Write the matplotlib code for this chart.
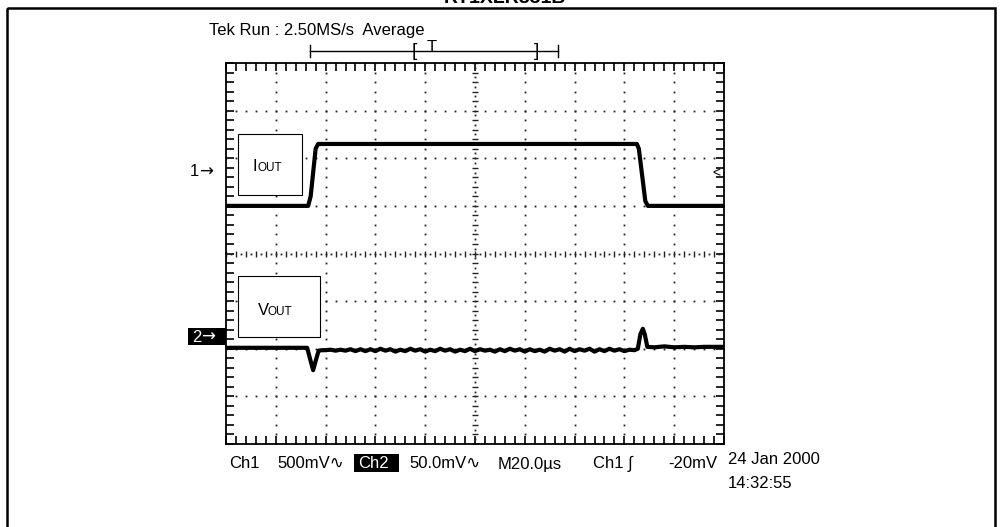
import matplotlib
matplotlib.use('Agg')
import matplotlib.pyplot as plt
from matplotlib.patches import Rectangle
import numpy as np

plt.rcParams['font.family'] = ['Liberation Sans', 'DejaVu Sans']

# screen is 10 x 8 divisions; waveforms are in divisions
ch1_t = [0.0, 1.65, 1.70, 1.80, 1.85, 8.25, 8.29, 8.42, 8.47, 10.0]
ch1_v = [5.0, 5.0, 5.2, 6.2, 6.3, 6.3, 6.2, 5.1, 5.0, 5.0]

ch2_pre_t = [0.0, 1.63, 1.69, 1.75, 1.81, 1.86, 1.93]
ch2_pre_v = [2.02, 2.02, 1.78, 1.55, 1.78, 1.96, 1.97]

ripple_t = np.round(np.arange(2.0, 8.21, 0.1), 2)
ripple_v = [1.97, 1.98, 1.96, 1.98, 1.96, 1.99, 1.95, 1.99, 1.95, 1.99,
            1.95, 2.00, 1.96, 1.99, 1.94, 1.98, 1.95, 2.00, 1.96, 1.99,
            1.94, 1.98, 1.95, 2.00, 1.96, 1.99, 1.94, 1.98, 1.95, 2.00,
            1.95, 1.99, 1.96, 1.98, 1.94, 1.99, 1.95, 2.00, 1.96, 1.99,
            1.94, 1.99, 1.95, 1.98, 1.94, 2.00, 1.96, 1.99, 1.94, 2.00,
            1.95, 1.99, 1.96, 2.00, 1.94, 1.99, 1.95, 2.00, 1.96, 1.99,
            1.95, 1.98, 1.97]

ch2_post_t = [8.27, 8.32, 8.37, 8.41, 8.46, 8.6, 8.8, 9.0, 9.2, 9.4, 9.6, 9.8, 10.0]
ch2_post_v = [2.00, 2.30, 2.42, 2.30, 2.04, 2.03, 2.05, 2.03, 2.04, 2.03, 2.04, 2.04, 2.04]

ch2_t = list(ch2_pre_t) + list(ripple_t) + ch2_post_t
ch2_v = list(ch2_pre_v) + ripple_v + ch2_post_v

W, H = 1002, 527
fig = plt.figure(figsize=(W / 100, H / 100), dpi=100)
fig.patch.set_facecolor('white')

ax = fig.add_axes([226 / W, 1 - 444 / H, 498 / W, 381 / H])
ax.set_xlim(0, 10)
ax.set_ylim(0, 8)
ax.set_xticks(np.arange(0, 10.01, 0.2))
ax.set_yticks(np.arange(0, 8.01, 0.2))
ax.tick_params(direction='in', length=6, width=1.2, top=True, right=True,
               labelbottom=False, labelleft=False)
for s in ax.spines.values():
    s.set_linewidth(1.3)

# dotted graticule
fine_x = np.arange(0, 10.01, 0.2)
fine_y = np.arange(0, 8.01, 0.2)
for gx in [1, 2, 3, 4, 6, 7, 8, 9]:
    ax.plot(np.full_like(fine_y, gx), fine_y, ls='none', marker='s', ms=1.3, color='#222', mew=0)
for gy in [1, 2, 3, 5, 6, 7]:
    ax.plot(fine_x, np.full_like(fine_x, gy), ls='none', marker='s', ms=1.3, color='#222', mew=0)

# centre cross with ticks
ax.plot(fine_x, np.full_like(fine_x, 4), ls='none', marker='|', ms=5, mew=1.0, color='#222')
ax.plot(fine_x + 0.1, np.full_like(fine_x, 4), ls='none', marker='s', ms=1.3, mew=0, color='#222')
ax.plot(np.full_like(fine_y, 5), fine_y, ls='none', marker='_', ms=5, mew=1.0, color='#222')
ax.plot(np.full_like(fine_y, 5), fine_y + 0.1, ls='none', marker='s', ms=1.3, mew=0, color='#222')

# traces
ax.plot(ch1_t, ch1_v, color='black', lw=3.0, solid_joinstyle='round', solid_capstyle='butt')
ax.plot(ch2_t, ch2_v, color='black', lw=3.0, solid_joinstyle='round', solid_capstyle='butt')

# overlay in pixel coordinates
ov = fig.add_axes([0, 0, 1, 1], zorder=5)
ov.set_xlim(0, W)
ov.set_ylim(H, 0)
ov.axis('off')
ov.patch.set_alpha(0)

ov.add_patch(Rectangle((7, 8), 988, 600, fill=False, lw=1.8, ec='black'))
ov.text(505, 3, 'RT1XLR831B', ha='center', va='baseline', fontsize=14, weight='bold')

ov.text(209, 31, 'Tek Run : 2.50MS/s  Average', ha='left', va='center', fontsize=12)
ov.plot([310, 558], [51, 51], color='black', lw=1.0)
ov.plot([310, 310], [45, 57], color='black', lw=1.0)
ov.plot([558, 558], [45, 57], color='black', lw=1.0)
ov.text(414, 51, '[', ha='center', va='center', fontsize=14)
ov.text(432, 47, 'T', ha='center', va='center', fontsize=12)
ov.text(537, 51, ']', ha='center', va='center', fontsize=14)

# label boxes
ov.add_patch(Rectangle((238, 134), 64, 61, fc='white', ec='black', lw=0.8))
ov.text(253, 171, 'I', ha='left', va='baseline', fontsize=12)
ov.text(258, 171, 'OUT', ha='left', va='baseline', fontsize=8.5)
ov.add_patch(Rectangle((238, 276), 82, 61, fc='white', ec='black', lw=0.8))
ov.text(258, 315, 'V', ha='left', va='baseline', fontsize=12)
ov.text(268, 315, 'OUT', ha='left', va='baseline', fontsize=8.5)

# channel markers
ov.text(190, 172, '1', ha='left', va='center', fontsize=12)
ov.text(199, 172, '\u2192', ha='left', va='center', fontsize=12, family='DejaVu Sans')
ov.add_patch(Rectangle((188, 328), 38, 17, fc='black', ec='black', lw=0))
ov.text(192, 337, '2', ha='left', va='center', fontsize=12, color='white')
ov.text(201, 337, '\u2192', ha='left', va='center', fontsize=12, color='white',
        family='DejaVu Sans')
ov.text(716, 173, '<', ha='center', va='center', fontsize=10)

# status line
ov.text(229, 464, 'Ch1', ha='left', va='center', fontsize=12)
ov.text(277, 464, '500mV\u223f', ha='left', va='center', fontsize=12)
ov.add_patch(Rectangle((354, 454), 45, 18, fc='black', ec='black', lw=0))
ov.text(358, 464, 'Ch2', ha='left', va='center', fontsize=12, color='white')
ov.text(409, 464, '50.0mV\u223f', ha='left', va='center', fontsize=12)
ov.text(498, 464, 'M20.0\u00b5s', ha='left', va='center', fontsize=12)
ov.text(593, 464, 'Ch1 \u222b', ha='left', va='center', fontsize=12)
ov.text(668, 464, '-20mV', ha='left', va='center', fontsize=12)
ov.text(728, 459, '24 Jan 2000', ha='left', va='center', fontsize=12)
ov.text(728, 483, '14:32:55', ha='left', va='center', fontsize=12)

fig.savefig('out.png', dpi=100)
